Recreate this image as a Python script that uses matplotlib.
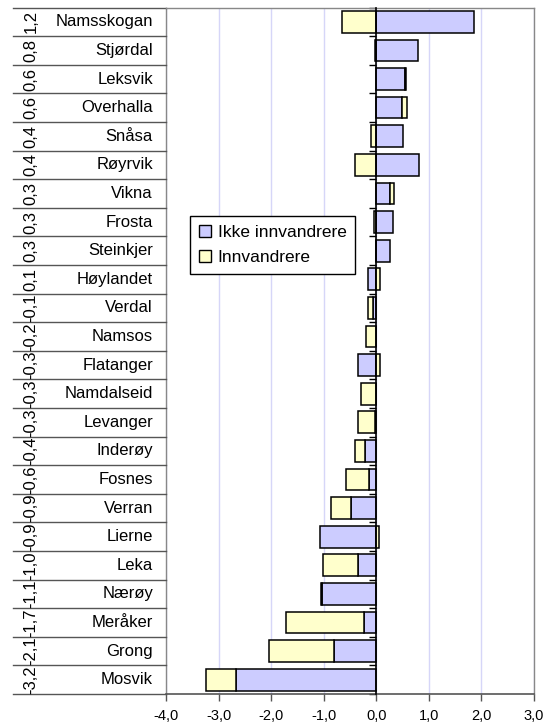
import matplotlib
matplotlib.use("Agg")
import matplotlib.pyplot as plt
import matplotlib.transforms as mtransforms
from matplotlib.patches import Patch
import numpy as np

plt.rcParams['font.family'] = ['Liberation Sans', 'DejaVu Sans']

kommuner = ["Namsskogan", "Stjørdal", "Leksvik", "Overhalla", "Snåsa", "Røyrvik",
            "Vikna", "Frosta", "Steinkjer", "Høylandet", "Verdal", "Namsos",
            "Flatanger", "Namdalseid", "Levanger", "Inderøy", "Fosnes", "Verran",
            "Lierne", "Leka", "Nærøy", "Meråker", "Grong", "Mosvik"]
ikke_innv = [1.86, 0.80, 0.55, 0.49, 0.51, 0.81, 0.26, 0.32, 0.26, -0.15, -0.06, -0.01,
             -0.35, -0.01, -0.02, -0.22, -0.14, -0.48, -1.08, -0.35, -1.04, -0.24, -0.80, -2.66]
innv = [-0.65, -0.02, 0.02, 0.09, -0.10, -0.41, 0.07, -0.05, 0.0, 0.08, -0.09, -0.19,
        0.08, -0.29, -0.33, -0.18, -0.44, -0.39, 0.06, -0.67, -0.02, -1.47, -1.25, -0.58]
totals = ["1,2", "0,8", "0,6", "0,6", "0,4", "0,4", "0,3", "0,3", "0,3", "0,1", "-0,1", "-0,2",
          "-0,3", "-0,3", "-0,3", "-0,4", "-0,6", "-0,9", "-0,9", "-1,0", "-1,1", "-1,7", "-2,1", "-3,2"]
xticks = [-4, -3, -2, -1, 0, 1, 2, 3]

W, H = 552, 723
fig = plt.figure(figsize=(W / 100, H / 100), dpi=100)
L, R, T, B = 166, 534, 7.5, 694
ax = fig.add_axes([L / W, 1 - B / H, (R - L) / W, (B - T) / H])

n = len(kommuner)
y = np.arange(n)
a = np.array(ikke_innv)
b = np.array(innv)
left_b = np.where(a * b > 0, a, 0.0)

blue = "#ccccff"
yellow = "#ffffcc"
h = 0.76
ax.barh(y, a, height=h, color=blue, edgecolor="black", linewidth=1.1, zorder=3,
        label="Ikke innvandrere")
ax.barh(y, b, left=left_b, height=h, color=yellow, edgecolor="black", linewidth=1.1,
        zorder=3, label="Innvandrere")

ax.set_xlim(-4, 3)
ax.set_ylim(n - 0.5, -0.5)

# x axis
ax.set_xticks(xticks)
ax.set_xticklabels([f"{v:.1f}".replace(".", ",") for v in xticks], fontsize=10.5)
ax.tick_params(axis="x", direction="out", length=5, width=1, color="#555555", pad=6)
ax.xaxis.grid(True, color="#d6d6f8", linewidth=1, zorder=0)
ax.set_axisbelow(True)

# category axis at x=0
ax.spines["left"].set_position(("data", 0))
ax.spines["left"].set_color("black")
ax.spines["left"].set_linewidth(1.2)
ax.spines["left"].set_zorder(4)
ax.set_yticks(np.arange(n + 1) - 0.5)
ax.set_yticklabels([])
ax.tick_params(axis="y", direction="out", length=5, width=1, color="black")

for s in ["top", "right"]:
    ax.spines[s].set_color("#888888")
    ax.spines[s].set_linewidth(1)
ax.spines["bottom"].set_color("#555555")
ax.spines["bottom"].set_linewidth(1.2)
ax.axvline(-4, color="#888888", linewidth=1, clip_on=False, zorder=1)

# category label table
trans = mtransforms.blended_transform_factory(ax.transAxes, ax.transData)
xw = R - L
x_left = (13 - L) / xw
for k in range(n + 1):
    ax.plot([x_left, 0], [k - 0.5, k - 0.5], transform=trans, color="#555555",
            linewidth=1, clip_on=False)
for k in range(n):
    ax.text((153 - L) / xw, k, kommuner[k], transform=trans, ha="right", va="center",
            fontsize=12)
    ax.text((31 - L) / xw, k, totals[k], transform=trans, ha="center", va="center",
            fontsize=12, rotation=90)

handles = [Patch(facecolor=blue, edgecolor="black", linewidth=1),
           Patch(facecolor=yellow, edgecolor="black", linewidth=1)]
leg = ax.legend(handles, ["Ikke innvandrere", "Innvandrere"], loc="upper left",
                bbox_to_anchor=((190 - L) / xw, (B - 216) / (B - T)), borderaxespad=0,
                fancybox=False, framealpha=1, edgecolor="black", fontsize=12.5,
                handlelength=0.7, handleheight=0.7, handletextpad=0.4,
                borderpad=0.5, labelspacing=0.6)
leg.get_frame().set_linewidth(1)
leg.set_zorder(5)

fig.savefig("out.png", dpi=100)
